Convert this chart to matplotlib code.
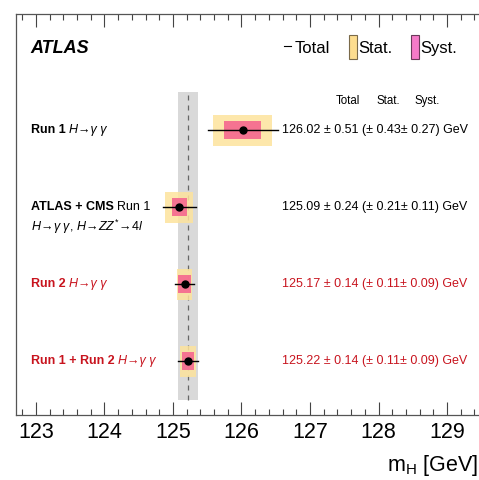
import numpy as np
import matplotlib
matplotlib.use("Agg")
import matplotlib.pyplot as plt
from matplotlib.patches import Rectangle

plt.rcParams['font.family'] = ['Liberation Sans', 'DejaVu Sans']
plt.rcParams['mathtext.fontset'] = 'custom'
plt.rcParams['mathtext.rm'] = 'Liberation Sans'
plt.rcParams['mathtext.it'] = 'Liberation Sans:italic'
plt.rcParams['mathtext.bf'] = 'Liberation Sans:bold'

# mass measurements, top to bottom; labels as (text, weight, style) pieces
labels = [[("Run 1 ", 'bold', 'normal'), ("H\u2192\u03b3 \u03b3", 'normal', 'italic')],
          [("ATLAS + CMS ", 'bold', 'normal'), ("Run 1", 'normal', 'normal')],
          [("Run 2 ", 'bold', 'normal'), ("H\u2192\u03b3 \u03b3", 'normal', 'italic')],
          [("Run 1 + Run 2 ", 'bold', 'normal'), ("H\u2192\u03b3 \u03b3", 'normal', 'italic')]]
mass = [126.02, 125.09, 125.17, 125.22]
total = [0.51, 0.24, 0.14, 0.14]
stat = [0.43, 0.21, 0.11, 0.11]
syst = [0.27, 0.11, 0.09, 0.09]
colors = ['black', 'black', '#c8141e', '#c8141e']
rows = [4, 3, 2, 1]

comb_mass = 125.22
comb_err = 0.14

stat_col = '#fde39c'
syst_col = '#f5678f'


def chain_text(ax, x, y, pieces, color, fs):
    # write pieces one after the other on the same line
    t = None
    for s, w, st in pieces:
        if t is None:
            t = ax.text(x, y, s, transform=ax.get_yaxis_transform(), color=color, fontsize=fs,
                        fontweight=w, fontstyle=st, va='center', ha='left')
        else:
            t = ax.annotate(s, xy=(1, 0), xycoords=t, color=color, fontsize=fs,
                            fontweight=w, fontstyle=st, va='bottom', ha='left')
    return t


fig = plt.figure(figsize=(4.79, 4.80), dpi=100)
ax = fig.add_axes([16/479, 65/480, 479/479, 401/480])
ax.set_xlim(122.71, 129.70)
ax.set_ylim(0.30, 5.51)

# combined band + central value
ax.add_patch(Rectangle((comb_mass - comb_err, 0.5), 2*comb_err, 4.0,
                       facecolor='#d9d9d9', edgecolor='none', zorder=1))
ax.plot([comb_mass, comb_mass], [0.5, 4.5], ls=(0, (4, 4)), color='#666666', lw=0.9, zorder=2)

for i in range(len(mass)):
    y = rows[i]
    ax.add_patch(Rectangle((mass[i] - stat[i], y - 0.2), 2*stat[i], 0.4,
                           facecolor=stat_col, edgecolor='none', alpha=0.85, zorder=3))
    ax.add_patch(Rectangle((mass[i] - syst[i], y - 0.12), 2*syst[i], 0.24,
                           facecolor=syst_col, edgecolor='none', alpha=0.9, zorder=4))
    ax.plot([mass[i] - total[i], mass[i] + total[i]], [y, y], color='black', lw=1.0, zorder=5)
    ax.plot(mass[i], y, 'o', color='black', ms=5, zorder=6)
    chain_text(ax, 0.031, y, labels[i], colors[i], 9)
    txt = "%.2f \u00b1 %.2f (\u00b1 %.2f\u00b1 %.2f) GeV" % (mass[i], total[i], stat[i], syst[i])
    ax.text(0.555, y, txt, transform=ax.get_yaxis_transform(), color=colors[i],
            fontsize=9, va='center', ha='left')

ax.text(0.031, 2.75, r"$H\!\rightarrow\!\gamma\ \gamma$, $H\!\rightarrow\! ZZ^{*}\!\rightarrow\! 4l$",
        transform=ax.get_yaxis_transform(), fontsize=9, va='center', ha='left')

# column header
for xf, s in [(0.693, 'Total'), (0.777, 'Stat.'), (0.858, 'Syst.')]:
    ax.text(xf, 0.784, s, transform=ax.transAxes, fontsize=8.3, ha='center', va='center')

# ATLAS label and legend
ax.text(0.031, 0.913, 'ATLAS', transform=ax.transAxes, fontsize=13, fontweight='bold',
        fontstyle='italic', va='center', ha='left')
ax.plot([0.560, 0.575], [0.921, 0.921], transform=ax.transAxes, color='black', lw=0.8)
ax.text(0.581, 0.913, 'Total', transform=ax.transAxes, fontsize=12, va='center', ha='left')
ax.add_patch(Rectangle((0.695, 0.888), 0.017, 0.060, transform=ax.transAxes,
                       facecolor='#fddd8f', edgecolor='#7a6a4a', lw=0.8))
ax.text(0.714, 0.913, 'Stat.', transform=ax.transAxes, fontsize=12, va='center', ha='left')
ax.add_patch(Rectangle((0.825, 0.888), 0.017, 0.060, transform=ax.transAxes,
                       facecolor='#f57ac8', edgecolor='#6a3a5a', lw=0.8))
ax.text(0.844, 0.913, 'Syst.', transform=ax.transAxes, fontsize=12, va='center', ha='left')

# axes styling
ax.set_xticks(np.arange(123, 130, 1))
ax.set_xticks(np.arange(122.8, 129.75, 0.2), minor=True)
ax.set_yticks([])
ax.tick_params(axis='x', which='both', direction='in', top=True, labelsize=15.5, pad=5,
               color='#444444')
ax.tick_params(axis='x', which='major', length=9.5, width=0.8)
ax.tick_params(axis='x', which='minor', length=4.5, width=0.8)
for sp in ax.spines.values():
    sp.set_color('#555555')
    sp.set_linewidth(0.9)

fig.text(478/479, 15/480, r"m$_{\mathrm{H}}$ [GeV]", fontsize=15.5, ha='right', va='center')

fig.savefig('out.png', dpi=100)
